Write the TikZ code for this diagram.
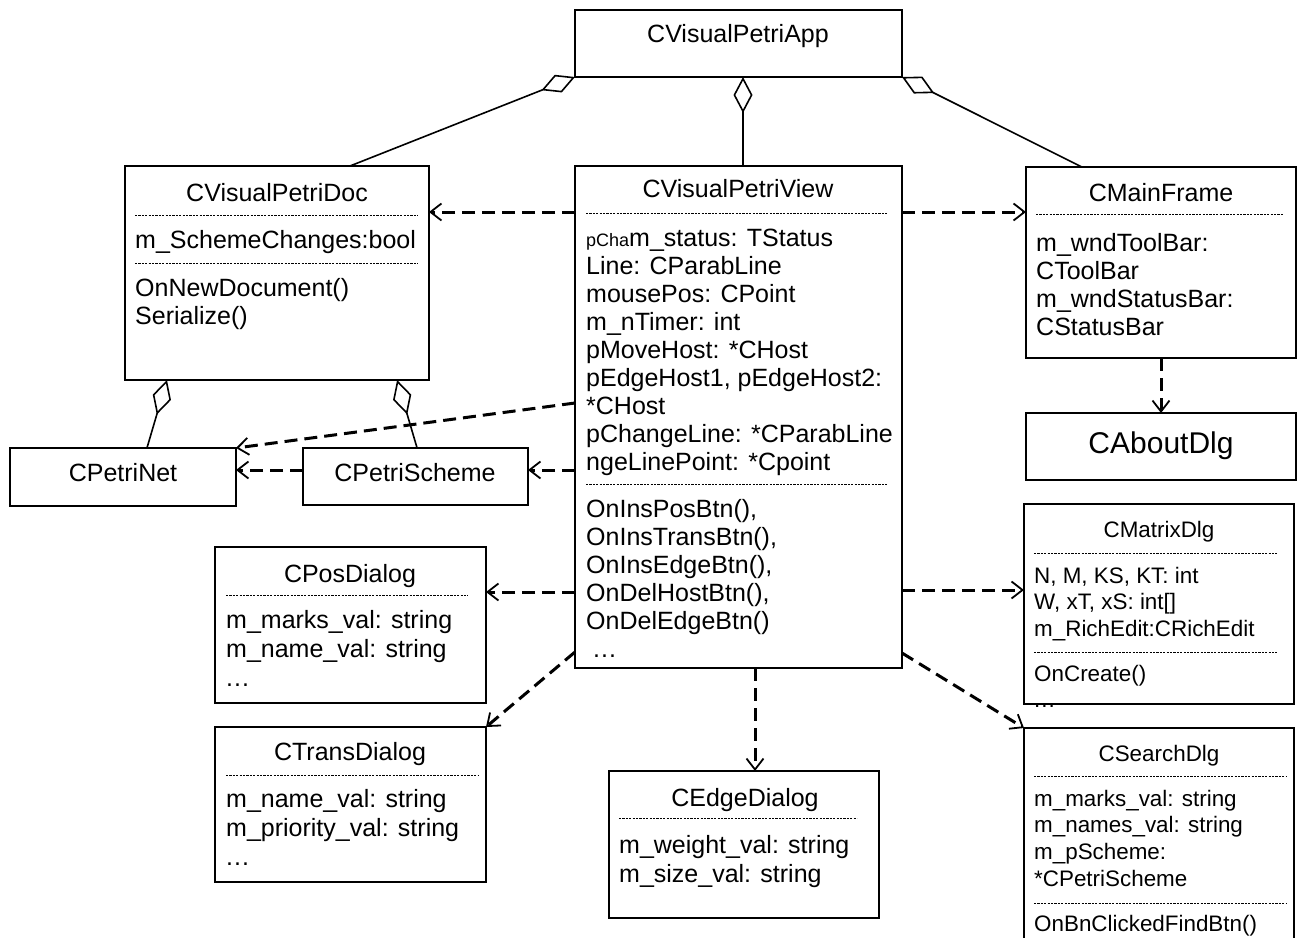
\documentclass[tikz,border=0pt]{standalone}
\usepackage{fontspec}
\setmainfont{Liberation Sans}
\usetikzlibrary{arrows.meta,calc}

\tikzset{
  cls/.style={draw, line width=1.6pt, fill=white, anchor=north west, inner sep=0pt, outer sep=0pt},
  ttl/.style={anchor=base, inner sep=0pt, font=\fontsize{25}{28}\selectfont},
  txt/.style={anchor=base west, inner sep=0pt, font=\fontsize{25}{28}\selectfont},
  small/.style={font=\fontsize{22.4}{26}\selectfont},
  sep/.style={line width=0.9pt, dash pattern=on 2.2pt off 1.2pt},
  dep/.style={line width=3pt, dash pattern=on 13pt off 7pt,
    -{Straight Barb[length=11pt,width=17pt,line width=1.8pt]}},
  aggr/.style={line width=1.6pt,
    -{Diamond[open,length=36pt,width=19pt,line width=1.6pt]}}
}

\begin{document}
\begin{tikzpicture}[x=1pt, y=-1pt]
  \useasboundingbox (0,0) rectangle (1303,937);

  % Application
  \node[cls, minimum width=327pt, minimum height=67pt] (app) at (575,10) {};
  \node[ttl] (app-t) at (738,42) {CVisualPetriApp};

  % Document
  \node[cls, minimum width=304pt, minimum height=214pt] (doc) at (125,166) {};
  \node[ttl] (doc-t) at (277,201) {CVisualPetriDoc};
  \draw[sep] (135,215) -- (418,215);
  \node[txt] (doc-a) at (135,248) {m\_SchemeChanges:bool};
  \draw[sep] (135,263) -- (418,263);
  \node[txt] (doc-m1) at (135,296) {OnNewDocument()};
  \node[txt] (doc-m2) at (135,324) {Serialize()};

  % Net and scheme
  \node[cls, minimum width=226pt, minimum height=58pt] (pnet) at (10,448) {};
  \node[ttl] (pnet-t) at (123,481) {CPetriNet};
  \node[cls, minimum width=225pt, minimum height=57pt] (pscheme) at (303,448) {};
  \node[ttl] (pscheme-t) at (415,481) {CPetriScheme};

  % View
  \node[cls, minimum width=327pt, minimum height=502pt] (view) at (575,166) {};
  \node[ttl] (view-t) at (738,197) {CVisualPetriView};
  \draw[sep] (586,213) -- (888,213);
  \node[txt] (view-a0) at (586,246) {{\fontsize{18}{20}\selectfont pCha}m\_status: TStatus};
  \foreach \t [count=\i] in {Line: CParabLine, mousePos: CPoint, m\_nTimer: int,
      pMoveHost: *CHost, {pEdgeHost1, pEdgeHost2:}, *CHost,
      pChangeLine: *CParabLine, ngeLinePoint: *Cpoint}
    \node[txt] (view-a\i) at (586,246+28*\i) {\t};
  \draw[sep] (586,484) -- (888,484);
  \foreach \t [count=\i from 0] in {{OnInsPosBtn(),}, {OnInsTransBtn(),}, {OnInsEdgeBtn(),},
      {OnDelHostBtn(),}, OnDelEdgeBtn()}
    \node[txt] (view-m\i) at (586,517+28*\i) {\t};
  \node[txt] (view-m5) at (593,657) {.\kern1pt.\kern1pt.};

  % Main frame
  \node[cls, minimum width=270pt, minimum height=191pt] (mf) at (1026,167) {};
  \node[ttl] (mf-t) at (1161,201) {CMainFrame};
  \draw[sep] (1036,214) -- (1283,214);
  \foreach \t [count=\i from 0] in {m\_wndToolBar:, CToolBar, m\_wndStatusBar:, CStatusBar}
    \node[txt] (mf-a\i) at (1036,251+28*\i) {\t};

  % About dialog
  \node[cls, minimum width=270pt, minimum height=67pt] (about) at (1026,413) {};
  \node[ttl, font=\fontsize{30}{34}\selectfont] (about-t) at (1161,453) {CAboutDlg};

  % Matrix dialog
  \node[cls, minimum width=270pt, minimum height=200pt] (matrix) at (1024,504) {};
  \node[ttl, small] (matrix-t) at (1159,537) {CMatrixDlg};
  \draw[sep] (1034,553) -- (1277,553);
  \foreach \t [count=\i from 0] in {{N, M, KS, KT: int}, {W, xT, xS: int[]}, m\_RichEdit:CRichEdit}
    \node[txt, small] (matrix-a\i) at (1034,583+26.7*\i) {\t};
  \draw[sep] (1034,652) -- (1277,652);
  \node[txt, small] (matrix-m0) at (1034,681) {OnCreate()};
  \node[txt, small] (matrix-m1) at (1034,707) {.\kern1pt.\kern1pt.};

  % Search dialog
  \node[cls, minimum width=270pt, minimum height=232pt] (search) at (1024,728) {};
  \node[ttl, small] (search-t) at (1159,761) {CSearchDlg};
  \draw[sep] (1034,776) -- (1287,776);
  \foreach \t [count=\i from 0] in {m\_marks\_val: string, m\_names\_val: string,
      m\_pScheme:, *CPetriScheme}
    \node[txt, small] (search-a\i) at (1034,806+26.7*\i) {\t};
  \draw[sep] (1034,903) -- (1287,903);
  \node[txt, small] (search-m0) at (1034,931) {OnBnClickedFindBtn()};

  % Position dialog
  \node[cls, minimum width=271pt, minimum height=156pt] (pos) at (215,547) {};
  \node[ttl] (pos-t) at (350,582) {CPosDialog};
  \draw[sep] (226,595) -- (468,595);
  \node[txt] (pos-a0) at (226,628) {m\_marks\_val: string};
  \node[txt] (pos-a1) at (226,657) {m\_name\_val: string};
  \node[txt] (pos-a2) at (226,686) {.\kern1pt.\kern1pt.};

  % Transition dialog
  \node[cls, minimum width=271pt, minimum height=155pt] (trans) at (215,727) {};
  \node[ttl] (trans-t) at (350,760) {CTransDialog};
  \draw[sep] (226,775) -- (478,775);
  \node[txt] (trans-a0) at (226,807) {m\_name\_val: string};
  \node[txt] (trans-a1) at (226,836) {m\_priority\_val: string};
  \node[txt] (trans-a2) at (226,865) {.\kern1pt.\kern1pt.};

  % Edge dialog
  \node[cls, minimum width=270pt, minimum height=147pt] (edge) at (609,771) {};
  \node[ttl] (edge-t) at (745,806) {CEdgeDialog};
  \draw[sep] (619,818) -- (857,818);
  \node[txt] (edge-a0) at (619,853) {m\_weight\_val: string};
  \node[txt] (edge-a1) at (619,882) {m\_size\_val: string};

  % Aggregations
  \draw[aggr] ($(doc.north west)!0.74!(doc.north east)$) -- (app.south west);
  \draw[aggr] ($(view.north west)+(168,0)$) -- ($(app.south west)+(168,0)$);
  \draw[aggr] ($(mf.north west)!0.207!(mf.north east)$) -- (app.south east);
  \draw[aggr] ($(pnet.north west)!0.606!(pnet.north east)$) -- ($(doc.south west)!0.138!(doc.south east)$);
  \draw[aggr] ($(pscheme.north west)!0.507!(pscheme.north east)$) -- ($(doc.south west)!0.895!(doc.south east)$);

  % Dependencies
  \draw[dep] ($(view.north west)+(0,46)$) -- ($(doc.north east)+(0,46)$);
  \draw[dep] ($(view.north east)+(0,46)$) -- ($(mf.north west)+(0,45)$);
  \draw[dep] (mf.south) -- (about.north);
  \draw[dep] ($(view.north west)+(0,237)$) -- (pnet.north east);
  \draw[dep] ($(pscheme.north west)+(0,22)$) -- ($(pnet.north east)+(0,22)$);
  \draw[dep] ($(view.north west)+(0,304)$) -- ($(pscheme.north east)+(0,22)$);
  \draw[dep] ($(view.north west)+(0,426)$) -- ($(pos.north east)+(0,45)$);
  \draw[dep] ($(view.north west)+(0,486)$) -- (trans.north east);
  \draw[dep] ($(view.south west)+(180,0)$) -- ($(edge.north west)+(146,0)$);
  \draw[dep] ($(view.north east)+(0,424)$) -- ($(matrix.north west)+(0,86)$);
  \draw[dep] ($(view.north east)+(0,487)$) -- (search.north west);
\end{tikzpicture}
\end{document}
